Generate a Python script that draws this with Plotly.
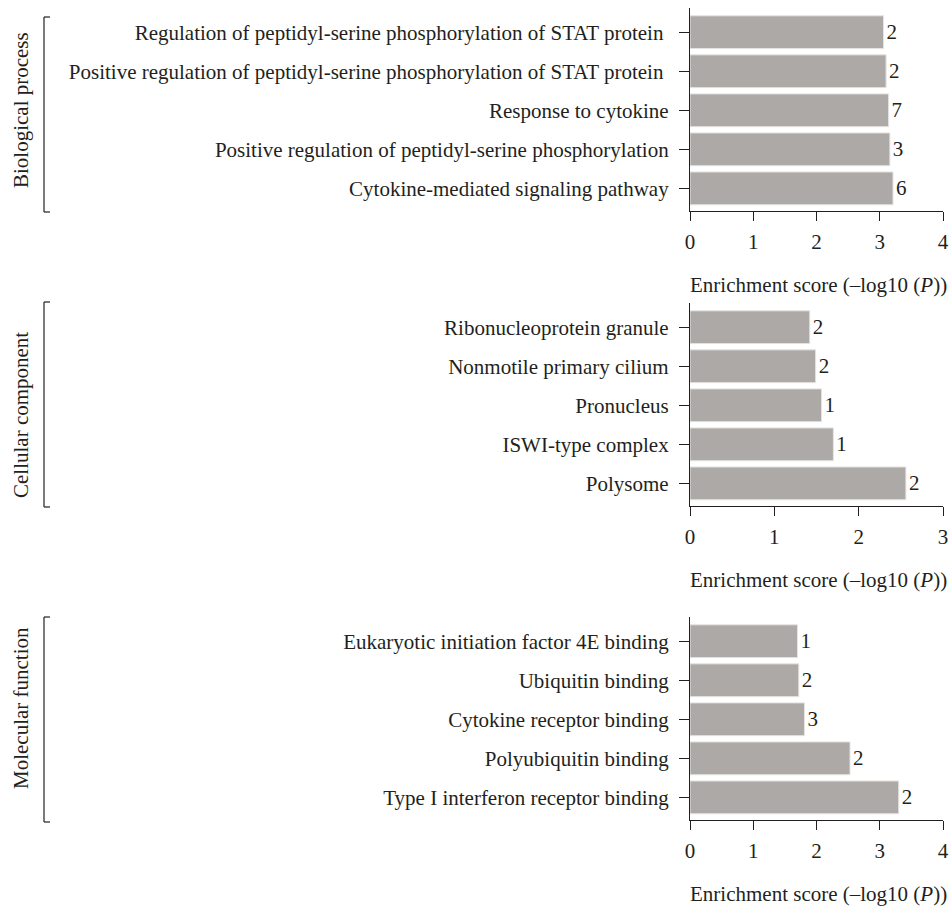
import plotly.graph_objects as go

# ---- data ----
bp_terms = ["Cytokine-mediated signaling pathway",
            "Positive regulation of peptidyl-serine phosphorylation",
            "Response to cytokine",
            "Positive regulation of peptidyl-serine phosphorylation of STAT protein ",
            "Regulation of peptidyl-serine phosphorylation of STAT protein "]
bp_scores = [3.21, 3.16, 3.14, 3.10, 3.06]
bp_counts = [6, 3, 7, 2, 2]

cc_terms = ["Polysome", "ISWI-type complex", "Pronucleus",
            "Nonmotile primary cilium", "Ribonucleoprotein granule"]
cc_scores = [2.56, 1.70, 1.56, 1.49, 1.42]
cc_counts = [2, 1, 1, 2, 2]

mf_terms = ["Type I interferon receptor binding", "Polyubiquitin binding",
            "Cytokine receptor binding", "Ubiquitin binding",
            "Eukaryotic initiation factor 4E binding"]
mf_scores = [3.30, 2.53, 1.81, 1.72, 1.70]
mf_counts = [2, 2, 3, 2, 1]

groups = ["Biological process", "Cellular component", "Molecular function"]
x_ranges = [4, 3, 4]
x_title = "Enrichment score (–log10 (<i>P</i>))"

W, H = 952, 907
FONT = "Liberation Serif"
FS = 21
BAR = "#ada9a6"
INK = "#231f20"

panels = [(bp_terms, bp_scores, bp_counts), (cc_terms, cc_scores, cc_counts),
          (mf_terms, mf_scores, mf_counts)]

def fx(p):
    return p / W

def fy(p):
    return 1 - p / H

# page-pixel layout (top, bottom) of each plot area
py = [(8, 211), (303, 506), (617, 820)]
px0, px1 = 690, 943
group_center_y = [110, 415, 708]
bracket_y = [(17, 212), (302, 507), (617, 822)]

fig = go.Figure()
layout = dict(width=W, height=H,
              margin=dict(l=0, r=0, t=0, b=0, autoexpand=False),
              plot_bgcolor="white", paper_bgcolor="white",
              font=dict(family=FONT, size=FS, color=INK),
              showlegend=False, bargap=0.16)
annotations = []
shapes = []
for i, (terms, scores, counts) in enumerate(panels):
    xa = "x" if i == 0 else f"x{i+1}"
    ya = "y" if i == 0 else f"y{i+1}"
    fig.add_trace(go.Bar(
        y=terms, x=scores, orientation="h", xaxis=xa, yaxis=ya,
        marker=dict(color=BAR, line=dict(color="#e6e4e2", width=1)),
        text=[str(c) for c in counts], textposition="outside",
        textfont=dict(family=FONT, size=FS, color=INK),
        cliponaxis=False, hoverinfo="skip"))
    t, b = py[i]
    xkey = "xaxis" if i == 0 else f"xaxis{i+1}"
    ykey = "yaxis" if i == 0 else f"yaxis{i+1}"
    layout[xkey] = dict(domain=[fx(px0), fx(px1)], anchor=ya,
                        range=[0, x_ranges[i]], dtick=1, tick0=0,
                        showline=True, linecolor=INK, linewidth=1.3,
                        ticks="outside", ticklen=9, tickwidth=1.3,
                        tickcolor=INK, showgrid=False, zeroline=False,
                        automargin=False,
                        ticklabelstandoff=3, tickfont=dict(size=FS))
    layout[ykey] = dict(domain=[fy(b), fy(t)], anchor=xa, range=[-0.58, 4.62],
                        showline=True, linecolor=INK, linewidth=1.3,
                        ticks="outside", ticklen=10, tickwidth=1.3,
                        tickcolor=INK, showgrid=False, zeroline=False,
                        automargin=False,
                        ticklabelstandoff=6, tickfont=dict(size=FS))
    # x axis title
    annotations.append(dict(text=x_title, xref="paper", yref="paper",
                            x=fx((px0 + px1) / 2 + 2), y=fy(b + 74),
                            xanchor="center", yanchor="middle",
                            showarrow=False, font=dict(size=FS)))
    # group label
    annotations.append(dict(text=groups[i], xref="paper", yref="paper",
                            x=fx(21), y=fy(group_center_y[i]),
                            xanchor="center", yanchor="middle", textangle=-90,
                            showarrow=False, font=dict(size=FS)))
    # bracket
    bt, bb = bracket_y[i]
    for seg in [(44, bt, 44, bb), (44, bt, 50, bt), (44, bb, 50, bb)]:
        shapes.append(dict(type="line", xref="paper", yref="paper",
                           x0=fx(seg[0]), y0=fy(seg[1]),
                           x1=fx(seg[2]), y1=fy(seg[3]),
                           line=dict(color=INK, width=1.2)))

layout["annotations"] = annotations
layout["shapes"] = shapes
fig.update_layout(**layout)
fig.write_html("out.html", config={"displayModeBar": False},
               post_script="document.body.style.margin='0';"
                           "document.body.style.overflow='hidden';")
